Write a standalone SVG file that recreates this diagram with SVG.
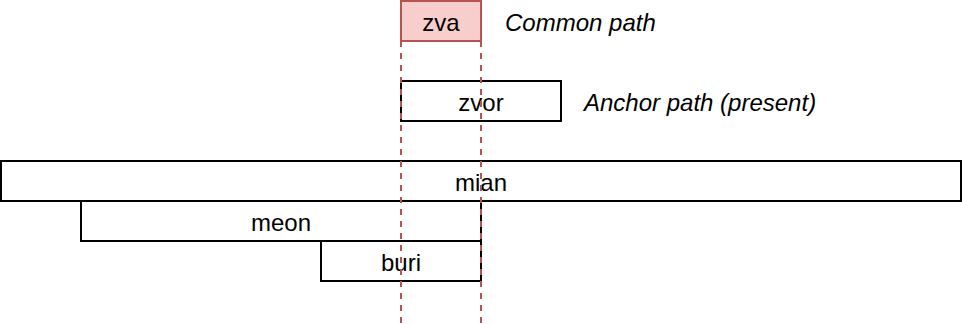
<svg xmlns="http://www.w3.org/2000/svg" width="962" height="324" viewBox="0 0 962 324">
  <style>
    .box { fill: #ffffff; stroke: #000000; stroke-width: 2; }
    .common { fill: #f8cecc; stroke: #b85450; stroke-width: 2; }
    .guide { stroke: #b85450; stroke-width: 2; stroke-dasharray: 6 6; fill: none; }
    .label { font-family: "Liberation Sans", Arial, sans-serif; font-size: 24px; fill: #000000; text-anchor: middle; dominant-baseline: central; }
    .note { font-family: "Liberation Sans", Arial, sans-serif; font-size: 24px; font-style: italic; fill: #000000; dominant-baseline: central; }
  </style>
  <rect width="962" height="324" fill="#ffffff"/>

  <g id="zvor">
    <rect class="box" x="401" y="81" width="160" height="40"/>
    <text class="label" x="481" y="102">zvor</text>
  </g>
  <g id="mian">
    <rect class="box" x="1" y="161" width="960" height="40"/>
    <text class="label" x="481" y="182">mian</text>
  </g>
  <g id="meon">
    <rect class="box" x="81" y="201" width="400" height="40"/>
    <text class="label" x="281" y="222">meon</text>
  </g>
  <g id="buri">
    <rect class="box" x="321" y="241" width="160" height="40"/>
    <text class="label" x="401" y="262">buri</text>
  </g>
  <g id="zva">
    <rect class="common" x="401" y="1" width="80" height="40"/>
    <text class="label" x="441" y="22">zva</text>
  </g>

  <g id="connectors">
    <line class="guide" x1="401" y1="41" x2="401" y2="324"/>
    <line class="guide" x1="481" y1="41" x2="481" y2="324"/>
  </g>

  <g id="notes">
    <text class="note" x="505" y="22">Common path</text>
    <text class="note" x="584" y="102">Anchor path (present)</text>
  </g>
</svg>
